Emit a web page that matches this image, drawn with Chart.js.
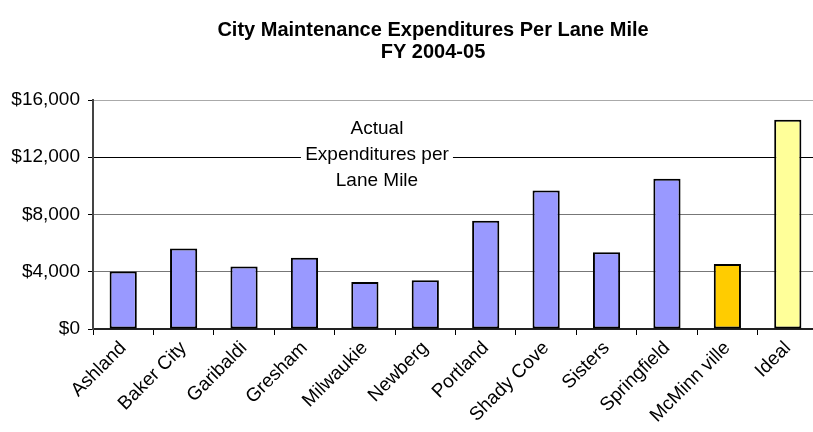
<!DOCTYPE html>
<html>
<head>
<meta charset="utf-8">
<script src="https://cdn.jsdelivr.net/npm/chart.js@4"></script>
<style>
  html, body { margin: 0; padding: 0; background: #fff; overflow: hidden; }
  #wrap { width: 866px; height: 432px; }
</style>
</head>
<body>
<div id="wrap"><canvas id="chart"></canvas></div>
<script>
// Data
const cities = ['Ashland', 'Baker City', 'Garibaldi', 'Gresham', 'Milwaukie', 'Newberg',
    'Portland', 'Shady Cove', 'Sisters', 'Springfield', 'McMinn ville', 'Ideal'];
const expenditures = [4020, 5620, 4370, 4970, 3290, 3400, 7570, 9670, 5360, 10490, 4540, 14620];
const yTicks = [0, 4000, 8000, 12000, 16000];
const titleLines = ['City Maintenance Expenditures Per Lane Mile', 'FY 2004-05'];
const noteLines = ['Actual', 'Expenditures per', 'Lane Mile'];

const FONT = '"Liberation Sans", Arial, sans-serif';

function barColor(name) {
    if (name === 'McMinn ville') return '#FFCC00';
    if (name === 'Ideal') return '#FFFF99';
    return '#9999FF';
}

// Text box sitting on the $12,000 line
const notePlugin = {
    id: 'note',
    afterDraw(chart) {
        const ctx = chart.ctx;
        const x = chart.scales.x;
        const y = chart.scales.y;
        const cx = x.getPixelForValue(4) + 0.2 * (x.getPixelForValue(5) - x.getPixelForValue(4));
        const cy = y.getPixelForValue(12000) - 3;
        ctx.save();
        ctx.font = '19px ' + FONT;
        ctx.fillStyle = '#fff';
        ctx.fillRect(cx - 76, cy - 42, 152, 82);
        ctx.fillStyle = '#000';
        ctx.textAlign = 'center';
        ctx.textBaseline = 'middle';
        noteLines.forEach((line, i) => {
            ctx.fillText(line, cx, cy + 1 + (i - 1) * 26);
        });
        ctx.restore();
    }
};

const ctx = document.getElementById('chart').getContext('2d');
new Chart(ctx, {
    type: 'bar',
    data: {
        labels: cities,
        datasets: [{
            data: expenditures,
            backgroundColor: cities.map(barColor),
            borderColor: '#000',
            borderWidth: 2,
            borderSkipped: false,
            categoryPercentage: 1,
            barPercentage: 0.45
        }]
    },
    options: {
        responsive: true,
        maintainAspectRatio: false,
        animation: false,
        layout: { padding: 0 },
        plugins: {
            legend: { display: false },
            tooltip: { enabled: false },
            title: {
                display: true,
                text: titleLines,
                color: '#000',
                font: { family: FONT, size: 20, weight: 'bold', lineHeight: 1.1 },
                padding: { top: 19, bottom: 37 }
            }
        },
        scales: {
            x: {
                grid: {
                    offset: true,
                    drawOnChartArea: false,
                    tickLength: 6,
                    tickColor: '#000',
                    lineWidth: 1
                },
                border: { color: '#222', width: 2 },
                ticks: {
                    color: '#000',
                    font: { family: FONT, size: 19 },
                    minRotation: 45,
                    maxRotation: 45,
                    autoSkip: false,
                    padding: 2
                },
                afterFit(scale) { scale.height = 103; }
            },
            y: {
                min: 0,
                max: 16000,
                afterBuildTicks(scale) {
                    scale.ticks = yTicks.map(v => ({ value: v }));
                },
                grid: {
                    color(c) {
                        const v = c.tick && c.tick.value;
                        if (v === 12000) return '#000';
                        if (v === 16000) return '#aaa';
                        return '#777';
                    },
                    tickColor: '#000',
                    tickLength: 5,
                    lineWidth: 1
                },
                border: { color: '#444', width: 2 },
                ticks: {
                    color: '#000',
                    font: { family: FONT, size: 19 },
                    padding: 8,
                    callback: v => '$' + v.toLocaleString('en-US')
                },
                afterFit(scale) { scale.width = 93; }
            },
            // empty right axis keeps the plot running off the right edge like the original
            y2: {
                position: 'right',
                display: true,
                grid: { display: false },
                border: { display: false },
                ticks: { display: false },
                afterFit(scale) { scale.width = 48; }
            }
        }
    },
    plugins: [notePlugin]
});
</script>
</body>
</html>
